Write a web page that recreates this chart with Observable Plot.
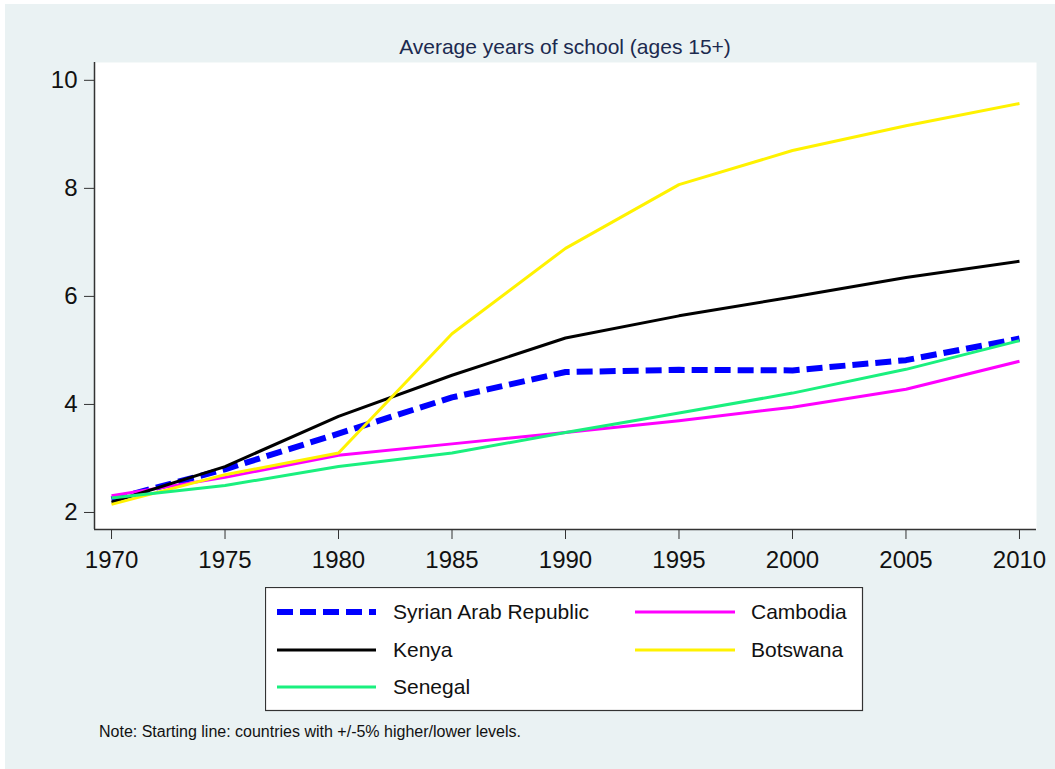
<!DOCTYPE html>
<html>
<head>
<meta charset="utf-8">
<script src="https://cdn.jsdelivr.net/npm/d3@7"></script>
<script src="https://cdn.jsdelivr.net/npm/@observablehq/plot@0.6"></script>
<style>
  html, body { margin: 0; padding: 0; background: #ffffff; }
  body { width: 1055px; height: 769px; position: relative; overflow: hidden; font-family: "Liberation Sans", Arial, sans-serif; }
  #bg { position: absolute; left: 5px; top: 4px; width: 1050px; height: 765px; background: #EAF2F3; }
  #chart { position: absolute; left: 0; top: 0; }
  #title { position: absolute; left: 94px; width: 942px; top: 35px; text-align: center; font-size: 21px; color: #1c2a4f; line-height: 24px; }
  #legend { position: absolute; left: 265px; top: 587px; }
  #note { position: absolute; left: 99px; top: 722px; font-size: 16px; color: #111; line-height: 20px; }
</style>
</head>
<body>
<div id="bg"></div>
<div id="title">Average years of school (ages 15+)</div>
<div id="chart"></div>
<div id="legend"></div>
<div id="note">Note: Starting line: countries with +/-5% higher/lower levels.</div>
<script>
const years = [1970, 1975, 1980, 1985, 1990, 1995, 2000, 2005, 2010];
const countries = ["Syrian Arab Republic", "Cambodia", "Kenya", "Botswana", "Senegal"];
const colors = ["#0000FF", "#FF00FF", "#000000", "#FFF200", "#1AF07E"];
const syria    = [2.24, 2.80, 3.46, 4.13, 4.60, 4.64, 4.63, 4.82, 5.22];
const cambodia = [2.31, 2.65, 3.06, 3.27, 3.48, 3.70, 3.95, 4.28, 4.80];
const kenya    = [2.19, 2.85, 3.78, 4.54, 5.23, 5.64, 5.99, 6.35, 6.65];
const botswana = [2.15, 2.70, 3.10, 5.31, 6.89, 8.07, 8.70, 9.16, 9.57];
const senegal  = [2.27, 2.50, 2.85, 3.10, 3.48, 3.84, 4.21, 4.65, 5.18];
const series = [syria, cambodia, kenya, botswana, senegal];
const xTicks = [1970, 1975, 1980, 1985, 1990, 1995, 2000, 2005, 2010];
const yTicks = [2, 4, 6, 8, 10];

const xDomain = [1969.25, 2010.75];
const yDomain = [1.685, 10.33];

const rows = [];
countries.forEach((c, i) => years.forEach((yr, j) => rows.push({country: c, year: yr, value: series[i][j]})));

const lineMarks = countries.map((c, i) => Plot.line(rows.filter(r => r.country === c), {
  x: "year", y: "value",
  stroke: colors[i],
  strokeWidth: i === 0 ? 6 : 3,
  strokeDasharray: i === 0 ? "16,7" : null,
  strokeLinecap: "butt",
  strokeLinejoin: "round"
}));

const chart = Plot.plot({
  width: 1055,
  height: 580,
  marginLeft: 94,
  marginRight: 19,
  marginTop: 62,
  marginBottom: 51,
  style: { background: "transparent", fontFamily: "Liberation Sans, Arial, sans-serif", fontSize: "24px", color: "#111" },
  x: { domain: xDomain },
  y: { domain: yDomain },
  marks: [
    Plot.frame({ fill: "white", stroke: null }),
    ...lineMarks,
    Plot.ruleY([yDomain[0]], { stroke: "#333", strokeWidth: 1.5 }),
    Plot.ruleX([xDomain[0]], { stroke: "#333", strokeWidth: 1.5 }),
    Plot.axisX({ ticks: xTicks, tickFormat: d => String(d), tickSize: 10, tickPadding: 11, fontSize: 24, stroke: "#333", label: null }),
    Plot.axisY({ ticks: yTicks, tickFormat: d => String(d), tickSize: 10, tickPadding: 7, fontSize: 24, stroke: "#333", label: null })
  ]
});
document.getElementById("chart").appendChild(chart);

// Legend (Stata-style, 2 columns filled row-wise)
const lw = 597, lh = 123;
const leg = d3.select("#legend").append("svg").attr("width", lw + 2).attr("height", lh + 2);
leg.append("rect").attr("x", 0.5).attr("y", 0.5).attr("width", lw).attr("height", lh)
  .attr("fill", "white").attr("stroke", "#333").attr("stroke-width", 1.2);
const rowY = [25, 63, 100];
const colLine = [[12, 111], [370, 470]];
const colText = [128, 486];
countries.forEach((c, i) => {
  const col = i % 2, row = Math.floor(i / 2);
  const y = rowY[row];
  leg.append("line").attr("x1", colLine[col][0]).attr("x2", colLine[col][1]).attr("y1", y).attr("y2", y)
    .attr("stroke", colors[i]).attr("stroke-width", i === 0 ? 6 : 3)
    .attr("stroke-dasharray", i === 0 ? "16,7" : null);
  leg.append("text").attr("x", colText[col]).attr("y", y).attr("dy", "0.35em")
    .attr("font-size", 21).attr("font-family", "Liberation Sans, Arial, sans-serif").attr("fill", "#111").text(c);
});
</script>
</body>
</html>
